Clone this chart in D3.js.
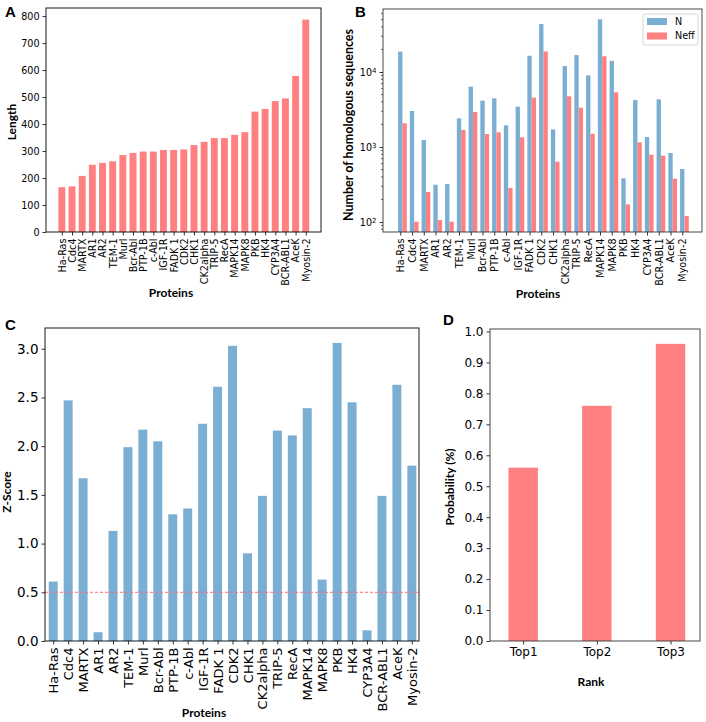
<!DOCTYPE html>
<html><head><meta charset="utf-8">
<script src="https://cdn.jsdelivr.net/npm/d3@7"></script>
<style>
body{margin:0;background:#fff;}
svg{display:block;}
.tick text{font-family:"DejaVu Sans";font-size:9.6px;fill:#000;}
.lab{font-family:Lato;font-weight:700;font-size:12px;fill:#000;}
.letter{font-family:"Liberation Sans";font-weight:700;font-size:15px;fill:#000;}
</style></head>
<body>
<svg id="c" width="706" height="722"></svg>
<script>
// ---- data ----
const lengthProteins = ["Ha-Ras","Cdc4","MARTX","AR1","AR2","TEM-1","Murl","Bcr-Abl","PTP-1B","c-Abl","IGF-1R","FADK 1","CDK2","CHK1","CK2alpha","TRIP-5","RecA","MAPK14","MAPK8","PKB","HK4","CYP3A4","BCR-ABL1","AceK","Myosin-2"];
const lengthValues = [166,169,208,249,256,262,285,293,298,298,304,304,306,322,334,348,348,360,370,446,456,485,495,578,787];
const proteins = ["Ha-Ras","Cdc4","MARTX","AR1","AR2","TEM-1","Murl","Bcr-Abl","PTP-1B","c-Abl","IGF-1R","FADK 1","CDK2","CHK1","CK2alpha","TRIP-5","RecA","MAPK14","MAPK8","PKB","HK4","CYP3A4","BCR-ABL1","AceK","Myosin-2"];
const nValues = [18700,3020,1240,314,321,2410,6370,4150,4460,1945,3450,16500,43600,1720,12000,16800,9000,50400,14100,382,4240,1360,4330,832,509];
const neffValues = [2070,101,251,106,101,1690,2930,1490,1570,284,1346,4550,18800,637,4740,3340,1500,16200,5360,172,1154,789,766,378,120];
const zScores = [0.61,2.47,1.67,0.09,1.13,1.99,2.17,2.05,1.30,1.36,2.23,2.61,3.03,0.90,1.49,2.16,2.11,2.39,0.63,3.06,2.45,0.11,1.49,2.63,1.80];
const zThreshold = 0.5;
const ranks = ["Top1","Top2","Top3"];
const rankProb = [0.56,0.76,0.96];
const seriesNames = ["N","Neff"];

const RED = "#ff8080", BLUE = "#7aaed3";
const svg = d3.select("#c");

function frame(g, L, R, T, B, col) {
  g.append("rect").attr("x",L).attr("y",T).attr("width",R-L).attr("height",B-T)
    .attr("fill","none").attr("stroke",col||"#000").attr("stroke-width",0.9);
}
function styleAxis(sel){
  sel.select(".domain").remove();
  sel.selectAll(".tick line").attr("stroke","#000").attr("stroke-width",0.8);
}
function rotLabels(g, x, names, B) {
  const ax = g.append("g").attr("transform",`translate(0,${B})`)
    .call(d3.axisBottom(x).tickValues(d3.range(names.length)).tickFormat(i=>names[i]).tickSize(3.5).tickPadding(3));
  styleAxis(ax);
  ax.selectAll(".tick text").attr("transform","rotate(-90)").attr("text-anchor","end")
    .attr("x",-6.5).attr("y",0).attr("dy","0.35em");
}
function letter(t,x,y){svg.append("text").attr("class","letter").attr("x",x).attr("y",y).text(t);}
function xlab(t,x,y){svg.append("text").attr("class","lab").attr("x",x).attr("y",y).attr("text-anchor","middle").text(t);}
function ylab(t,x,y,fs){const s=svg.append("text").attr("class","lab").attr("transform",`translate(${x},${y}) rotate(-90)`).attr("text-anchor","middle").attr("dy","0.35em").text(t); if(fs) s.style("font-size",fs+"px"); return s;}

// ---- Panel A ----
{
  const L=46,R=321,T=8,B=232;
  const g = svg.append("g");
  const x = d3.scaleLinear().domain([-1.56,25.5]).range([L,R]);
  const y = d3.scaleLinear().domain([0,830]).range([B,T]);
  const w = 0.68;
  g.selectAll("rect.bar").data(lengthValues).join("rect").attr("class","bar")
    .attr("x",(d,i)=>x(i-w/2)).attr("width",x(w)-x(0)).attr("y",d=>y(d)).attr("height",d=>y(0)-y(d))
    .attr("fill",RED);
  const ay = g.append("g").attr("transform",`translate(${L},0)`).call(d3.axisLeft(y).tickValues(d3.range(0,801,100)).tickSize(3.5).tickPadding(3));
  styleAxis(ay);
  rotLabels(g,x,lengthProteins,B);
  frame(g,L,R,T,B);
  letter("A",5,17);
  xlab("Proteins",171,297);
  ylab("Length",12,122);
}

// ---- Panel B ----
{
  const L=383,R=702,T=9,B=232;
  const g = svg.append("g");
  const x = d3.scaleLinear().domain([-1.47,25.68]).range([L,R]);
  const y = d3.scaleLog().domain([Math.pow(10,1.867),Math.pow(10,4.84)]).range([B,T]);
  const w = 0.37;
  const base = y.domain()[0];
  g.selectAll("rect.n").data(nValues).join("rect").attr("class","n")
    .attr("x",(d,i)=>x(i-w/2)).attr("width",x(w)-x(0)).attr("y",d=>y(d)).attr("height",d=>y(base)-y(d)).attr("fill",BLUE);
  g.selectAll("rect.ne").data(neffValues).join("rect").attr("class","ne")
    .attr("x",(d,i)=>x(i+w/2)).attr("width",x(w)-x(0)).attr("y",d=>y(d)).attr("height",d=>y(base)-y(d)).attr("fill",RED);
  const ay = g.append("g").attr("transform",`translate(${L},0)`).call(d3.axisLeft(y).tickValues([100,1000,10000]).tickFormat("").tickSize(3.5).tickPadding(3));
  styleAxis(ay);
  ay.selectAll(".tick").each(function(d){
    const t = d3.select(this).append("text").attr("x",-6.5).attr("dy","0.35em").attr("text-anchor","end").style("font-size","9.6px");
    t.append("tspan").text("10");
    t.append("tspan").attr("dy","-0.45em").style("font-size","7px").text(String(Math.round(Math.log10(d))));
  });
  const minors=[];
  for (let e=1;e<=4;e++) for (let k=2;k<=9;k++){const v=k*Math.pow(10,e); if(v>=y.domain()[0]&&v<=y.domain()[1]) minors.push(v);}
  g.selectAll("line.minor").data(minors).join("line").attr("x1",L).attr("x2",L-2).attr("y1",d=>y(d)).attr("y2",d=>y(d)).attr("stroke","#000").attr("stroke-width",0.6);
  rotLabels(g,x,proteins,B);
  frame(g,L,R,T,B,"#333");
  // legend
  const lg = g.append("g");
  lg.append("rect").attr("x",643).attr("y",14).attr("width",55).attr("height",31).attr("rx",2).attr("fill","#fff").attr("fill-opacity",0.8).attr("stroke","#ccc").attr("stroke-width",0.8);
  [BLUE,RED].forEach((c,i)=>{
    lg.append("rect").attr("x",647).attr("y",18+i*14.5).attr("width",20).attr("height",7).attr("fill",c);
    lg.append("text").attr("x",675).attr("y",21.5+i*14.5).attr("dy","0.35em").style("font-family","DejaVu Sans").style("font-size","9.6px").text(seriesNames[i]);
  });
  letter("B",355,17);
  xlab("Proteins",538,298);
  ylab("Number of homologous sequences",349,125,12.5);
}

// ---- Panel C ----
{
  const L=45,R=419,T=328,B=641;
  const g = svg.append("g");
  const x = d3.scaleLinear().domain([-0.55,24.48]).range([L,R]);
  const y = d3.scaleLinear().domain([0,3.213]).range([B,T]);
  const w = 0.6;
  g.selectAll("rect.bar").data(zScores).join("rect").attr("class","bar")
    .attr("x",(d,i)=>x(i-w/2)).attr("width",x(w)-x(0)).attr("y",d=>y(d)).attr("height",d=>y(0)-y(d)).attr("fill",BLUE);
  g.append("line").attr("x1",L).attr("x2",R).attr("y1",y(zThreshold)).attr("y2",y(zThreshold))
    .attr("stroke","#ff7070").attr("stroke-width",1).attr("stroke-dasharray","3,2");
  const ay = g.append("g").attr("transform",`translate(${L},0)`).call(d3.axisLeft(y).tickValues(d3.range(0,3.01,0.5)).tickFormat(d3.format(".1f")).tickSize(3.5).tickPadding(3));
  styleAxis(ay);
  ay.selectAll(".tick text").style("font-size","13.5px");
  rotLabels(g,x,proteins,B);
  g.selectAll(".tick text").filter(function(){return this.getAttribute("transform");}).style("font-size","13px");
  frame(g,L,R,T,B);
  letter("C",5,330);
  xlab("Proteins",204,717);
  ylab("Z-Score",7,492);
}

// ---- Panel D ----
{
  const L=490,R=700,T=329,B=641;
  const g = svg.append("g");
  const x = d3.scaleLinear().domain([-0.45,2.4]).range([L,R]);
  const y = d3.scaleLinear().domain([0,1.008]).range([B,T]);
  const w = 0.4;
  g.selectAll("rect.bar").data(rankProb).join("rect").attr("class","bar")
    .attr("x",(d,i)=>x(i-w/2)).attr("width",x(w)-x(0)).attr("y",d=>y(d)).attr("height",d=>y(0)-y(d)).attr("fill",RED);
  const ay = g.append("g").attr("transform",`translate(${L},0)`).call(d3.axisLeft(y).tickValues(d3.range(0,1.001,0.1)).tickFormat(d3.format(".1f")).tickSize(3.5).tickPadding(3));
  styleAxis(ay);
  ay.selectAll(".tick text").style("font-size","12px");
  const ax = g.append("g").attr("transform",`translate(0,${B})`).call(d3.axisBottom(x).tickValues([0,1,2]).tickFormat(i=>ranks[i]).tickSize(3.5).tickPadding(3));
  styleAxis(ax);
  ax.selectAll(".tick text").style("font-size","12px");
  frame(g,L,R,T,B,"#333");
  letter("D",443,325);
  xlab("Rank",591,686);
  ylab("Probability (%)",450,487);
}
</script>
</body></html>
